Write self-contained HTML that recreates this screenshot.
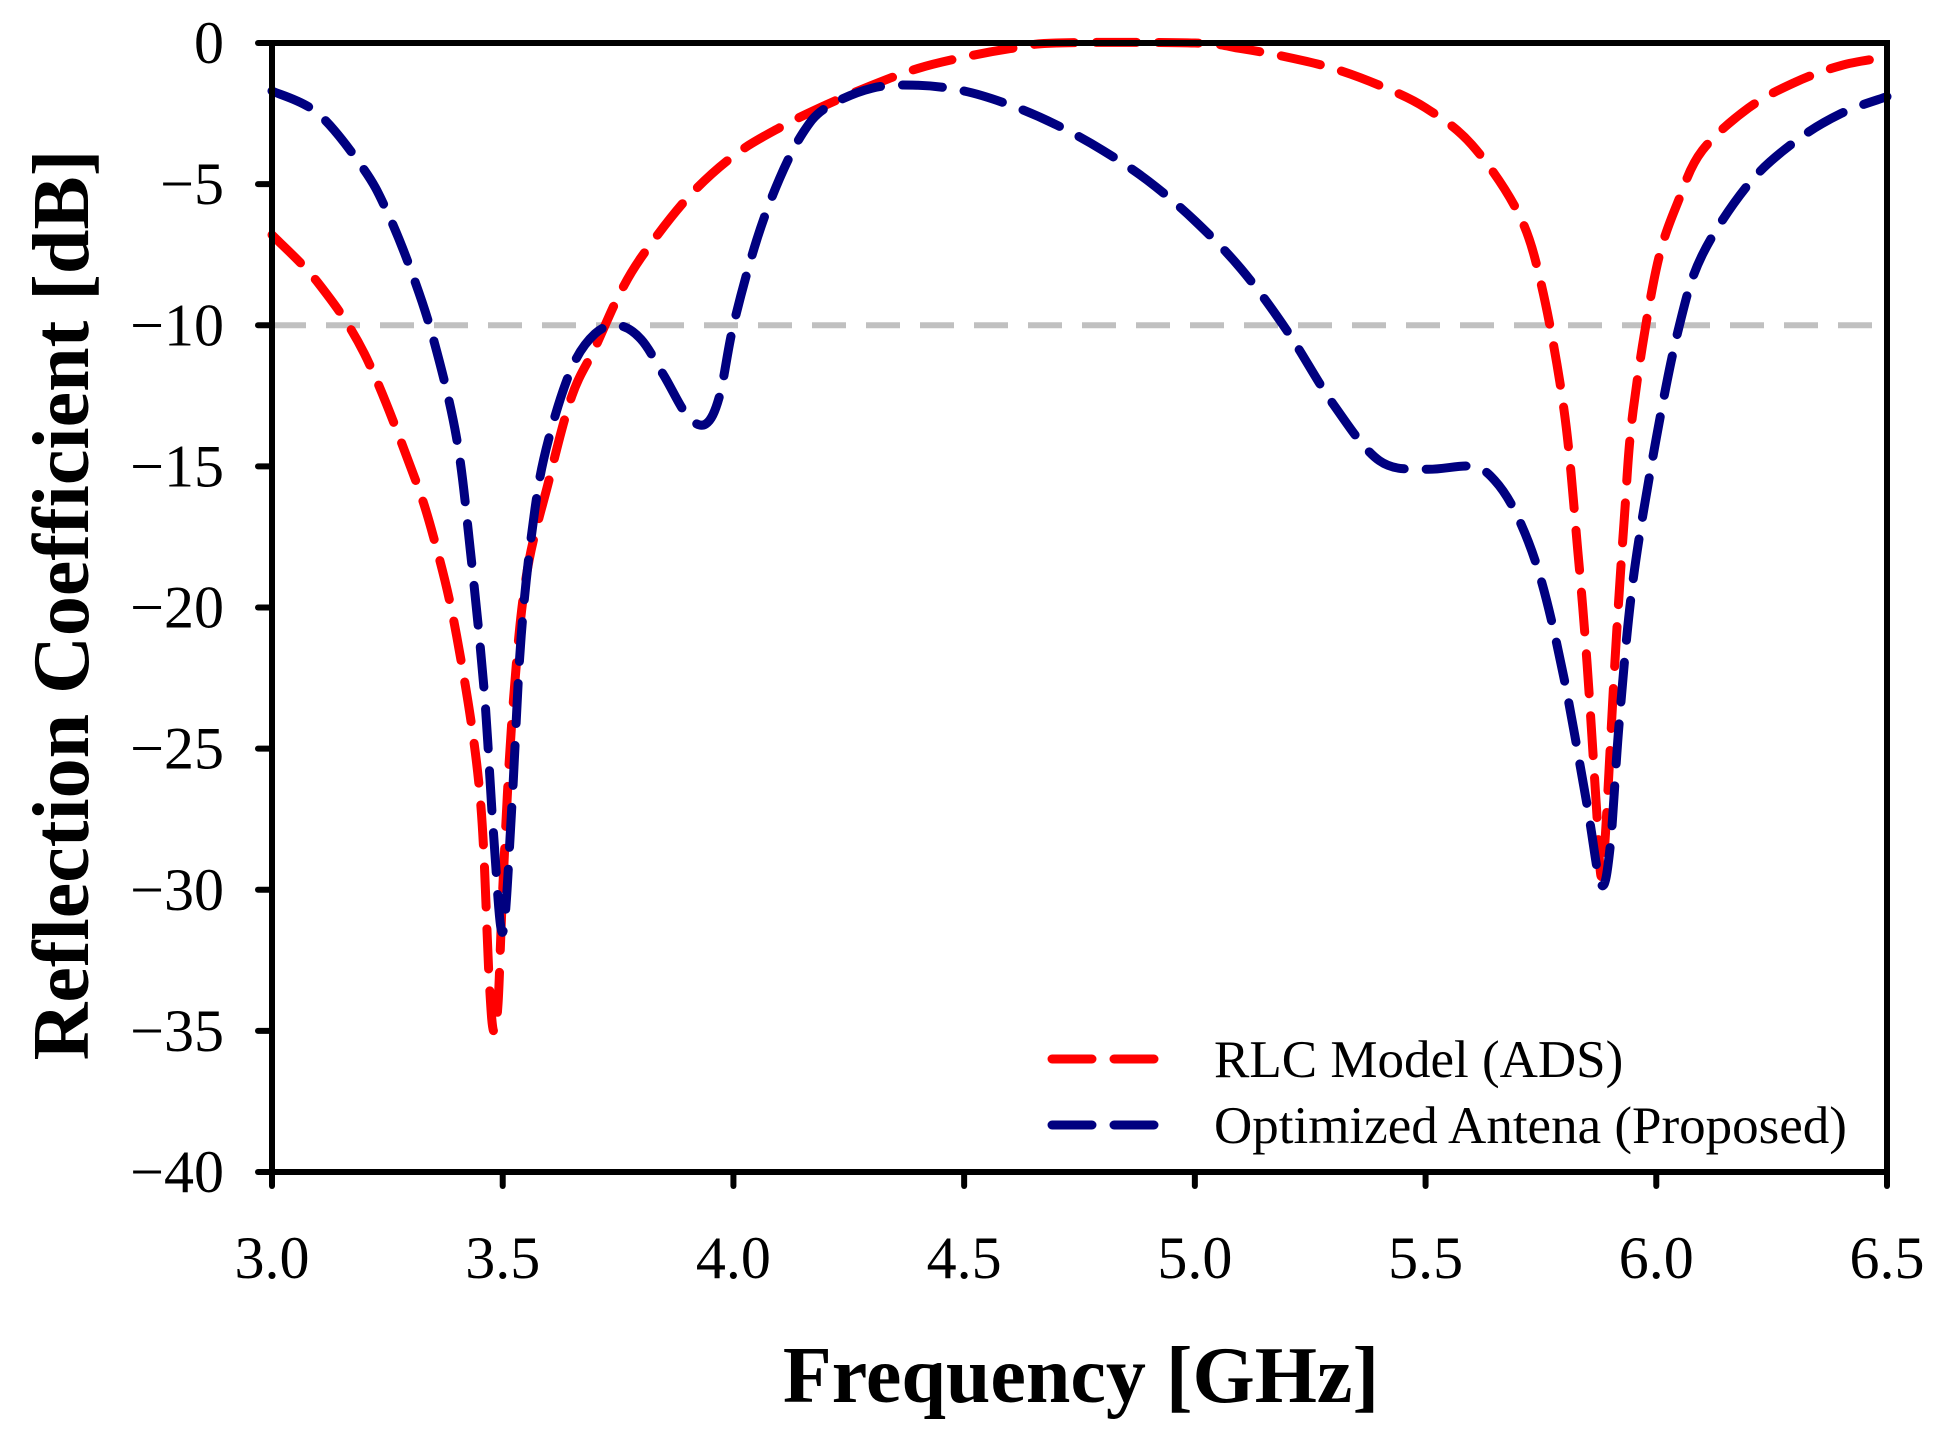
<!DOCTYPE html>
<html><head><meta charset="utf-8"><style>
html,body{margin:0;padding:0;background:#fff;}
svg{display:block;font-family:"Liberation Serif",serif;}
</style></head><body>
<svg id="chart" width="1942" height="1440" viewBox="0 0 1942 1440">
<g id="grid"></g>
<g id="series"></g>
<g id="axes"></g>
<text x="1081" y="1402" text-anchor="middle" font-size="80" font-weight="bold">Frequency [GHz]</text>
<text transform="translate(88,605) rotate(-90)" text-anchor="middle" font-size="80" font-weight="bold">Reflection Coefficient [dB]</text>
<g>
<line x1="1052" y1="1059" x2="1169" y2="1059" stroke="#ff0000" stroke-width="9" stroke-dasharray="40,22" stroke-linecap="round"/>
<text x="1214" y="1077" font-size="53">RLC Model (ADS)</text>
<line x1="1052" y1="1125" x2="1169" y2="1125" stroke="#000080" stroke-width="9" stroke-dasharray="40,22" stroke-linecap="round"/>
<text x="1214" y="1143" font-size="53">Optimized Antena (Proposed)</text>
</g>
</svg>
<script>
const xTicks=[3.0,3.5,4.0,4.5,5.0,5.5,6.0,6.5];
const xTickLabels=["3.0","3.5","4.0","4.5","5.0","5.5","6.0","6.5"];
const yTicks=[0,-5,-10,-15,-20,-25,-30,-35,-40];
const yTickLabels=["0","\u22125","\u221210","\u221215","\u221220","\u221225","\u221230","\u221235","\u221240"];
const threshold=-10;
const redX=[3.0,3.1,3.2,3.3,3.35,3.4,3.45,3.47,3.48,3.49,3.5,3.52,3.55,3.6,3.65,3.7,3.75,3.8,3.9,4.0,4.1,4.2,4.3,4.4,4.5,4.6,4.7,5.0,5.1,5.2,5.3,5.4,5.5,5.6,5.7,5.75,5.8,5.83,5.85,5.87,5.88,5.89,5.91,5.93,5.95,6.0,6.05,6.1,6.2,6.3,6.4,6.5];
const redY=[-6.8,-8.5,-11,-15,-17.5,-21,-26.5,-33,-35,-34,-30,-24,-19,-15.5,-12.5,-10.8,-9,-7.6,-5.5,-4,-3,-2.2,-1.5,-0.9,-0.5,-0.2,0,0,-0.2,-0.5,-0.9,-1.5,-2.3,-3.6,-6,-8.5,-13,-18,-22,-27,-29.5,-28,-22,-17,-13,-8,-5.5,-3.8,-2.3,-1.4,-0.8,-0.5];
const blueX=[3.0,3.1,3.2,3.25,3.3,3.35,3.4,3.43,3.46,3.48,3.5,3.52,3.54,3.57,3.6,3.65,3.7,3.75,3.8,3.85,3.9,3.94,3.97,4.0,4.05,4.1,4.15,4.2,4.3,4.4,4.5,4.6,4.7,4.8,4.9,5.0,5.1,5.2,5.3,5.4,5.5,5.6,5.65,5.7,5.75,5.8,5.85,5.88,5.9,5.92,5.95,6.0,6.05,6.1,6.2,6.3,6.4,6.5];
const blueY=[-1.7,-2.5,-4.5,-6,-8,-10.5,-14,-18,-23,-28,-31.5,-27,-21,-16.5,-14,-11.5,-10.3,-10,-10.5,-11.8,-13.2,-13.5,-12.5,-10,-7,-4.8,-3.2,-2.3,-1.6,-1.5,-1.7,-2.2,-2.9,-3.8,-4.9,-6.3,-8,-10.2,-12.8,-14.8,-15.1,-15,-15.5,-16.8,-19,-22.5,-27,-29.8,-28.5,-24,-19,-14,-10,-7.5,-5,-3.5,-2.5,-1.9];

const L=272,R=1887,T=43,B=1172;
const xs=v=>L+(v-3)/(3.5)*(R-L);
const ys=v=>T+(0-v)/40*(B-T);
const NS="http://www.w3.org/2000/svg";
function mk(tag,attrs,parent){const e=document.createElementNS(NS,tag);for(const k in attrs)e.setAttribute(k,attrs[k]);parent.appendChild(e);return e;}
function smooth(px,py){
  const p=px.map((x,i)=>[xs(x),ys(py[i])]);
  let d="M"+p[0][0].toFixed(1)+","+p[0][1].toFixed(1);
  for(let i=0;i<p.length-1;i++){
    const p0=p[Math.max(0,i-1)],p1=p[i],p2=p[i+1],p3=p[Math.min(p.length-1,i+2)];
    const t=1/3;
    const c1=[p1[0]+(p2[0]-p0[0])*t/2,p1[1]+(p2[1]-p0[1])*t/2];
    const c2=[p2[0]-(p3[0]-p1[0])*t/2,p2[1]-(p3[1]-p1[1])*t/2];
    d+="C"+c1[0].toFixed(1)+","+c1[1].toFixed(1)+" "+c2[0].toFixed(1)+","+c2[1].toFixed(1)+" "+p2[0].toFixed(1)+","+p2[1].toFixed(1);
  }
  return d;
}
const grid=document.getElementById('grid');
const th=mk('line',{x1:L,x2:R,y1:ys(threshold),y2:ys(threshold),stroke:'#c0c0c0','stroke-width':6,'stroke-dasharray':'34,20'},grid);



const ser=document.getElementById('series');
const rp=mk('path',{d:smooth(redX,redY),fill:'none',stroke:'#ff0000','stroke-width':9,'stroke-dasharray':'40,22','stroke-linecap':'round','stroke-linejoin':'round'},ser);


const bp=mk('path',{d:smooth(blueX,blueY),fill:'none',stroke:'#000080','stroke-width':9,'stroke-dasharray':'40,22','stroke-linecap':'round','stroke-linejoin':'round'},ser);



const ax=document.getElementById('axes');
const fr=mk('rect',{x:L,y:T,width:R-L,height:B-T,fill:'none',stroke:'#000','stroke-width':6},ax);


xTicks.forEach((v,i)=>{
  const t=mk('line',{x1:xs(v),x2:xs(v),y1:B,y2:B+14,stroke:'#000','stroke-width':6,'stroke-linecap':'round'},ax);
  
  
  const l=mk('text',{x:xs(v),y:1278,'text-anchor':'middle','font-size':60},ax);
  l.textContent=xTickLabels[i];
  
  
});
yTicks.forEach((v,i)=>{
  const t=mk('line',{x1:L-14,x2:L,y1:ys(v),y2:ys(v),stroke:'#000','stroke-width':6,'stroke-linecap':'round'},ax);
  
  
  const l=mk('text',{x:224,y:ys(v)+20,'text-anchor':'end','font-size':60},ax);
  l.textContent=yTickLabels[i];
  
  
});
</script>
</body></html>
